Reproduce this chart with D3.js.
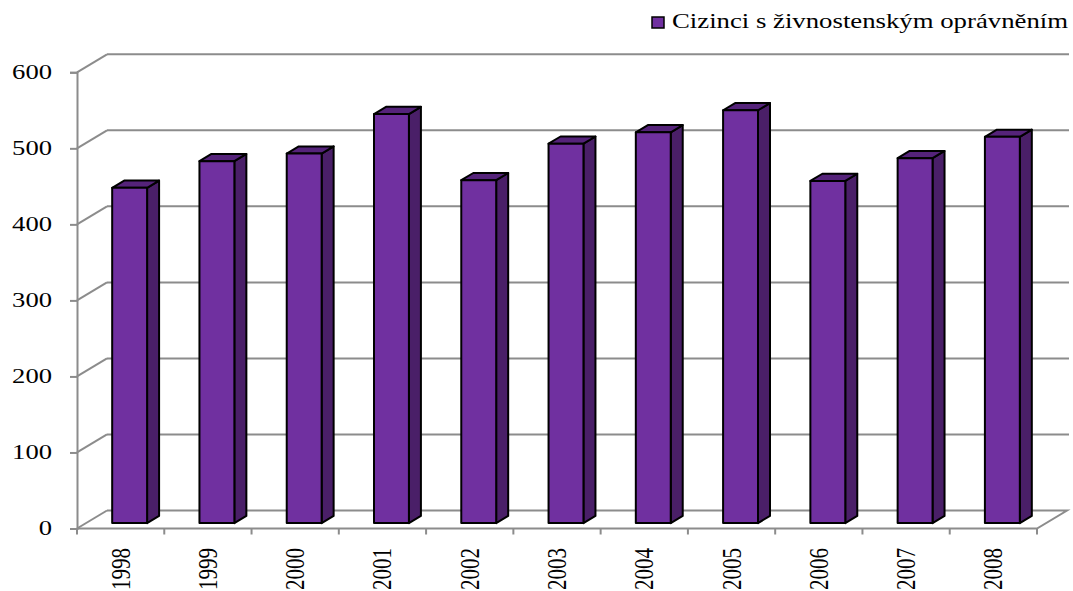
<!DOCTYPE html>
<html>
<head>
<meta charset="utf-8">
<script src="https://cdn.jsdelivr.net/npm/d3@7"></script>
<style>
  body { margin: 0; background: #fff; }
  text { font-family: "Liberation Serif", "Times New Roman", serif; fill: #000; }
</style>
</head>
<body>
<svg id="chart" width="1073" height="591"></svg>
<script>
const years = ["1998", "1999", "2000", "2001", "2002", "2003", "2004", "2005", "2006", "2007", "2008"];
const values = [441, 476, 486, 538, 451, 499, 514, 543, 450, 480, 508];
const yTicks = [0, 100, 200, 300, 400, 500, 600];
const seriesName = "Cizinci s živnostenským oprávněním";

const svg = d3.select("#chart");

// front plane of the plot and the depth of the 3d box
const depthX = 30, depthY = -18;
const x = d3.scaleBand().domain(years).range([77, 1037]).paddingInner(0.6).paddingOuter(0.3);
const y = d3.scaleLinear().domain([0, 600]).range([528.5, 72.3]);

const grid = svg.append("g").attr("stroke", "#8c8c8c").attr("stroke-width", 2).attr("fill", "none");

// back wall gridlines + left wall slants
yTicks.forEach(t => {
    if (t > 0) {
        grid.append("line")
            .attr("x1", 77 + depthX).attr("y1", y(t) + depthY)
            .attr("x2", 1069).attr("y2", y(t) + depthY);
    }
    grid.append("line")
        .attr("x1", 77).attr("y1", y(t))
        .attr("x2", 77 + depthX).attr("y2", y(t) + depthY);
});

// floor
grid.append("path")
    .attr("d", `M77,${y(0)}L1037,${y(0)}L${1037 + depthX},${y(0) + depthY}L${77 + depthX},${y(0) + depthY}`);

// y axis
const yAxis = svg.append("g")
    .attr("transform", "translate(77,0)")
    .call(d3.axisLeft(y).tickValues(yTicks).tickSize(7).tickPadding(18));
yAxis.select(".domain").attr("stroke", "#8c8c8c").attr("stroke-width", 2);
yAxis.selectAll(".tick line").attr("stroke", "#8c8c8c").attr("stroke-width", 2);
yAxis.selectAll(".tick text")
    .attr("font-size", 20)
    .attr("font-family", "Liberation Serif")
    .attr("textLength", d => String(d).length * 13.3)
    .attr("lengthAdjust", "spacingAndGlyphs");

// x axis ticks at category boundaries
const step = x.step();
const ticksX = d3.range(years.length + 1).map(i => 77 + i * step);
svg.append("g").selectAll("line").data(ticksX).join("line")
    .attr("x1", d => d).attr("x2", d => d)
    .attr("y1", y(0)).attr("y2", y(0) + 6)
    .attr("stroke", "#8c8c8c").attr("stroke-width", 2);

// labels are a bit stretched sideways in the original
svg.append("g").selectAll("text").data(years).join("text")
    .attr("transform", (d, i) => `translate(${77 + (i + 0.5) * step + 9},548) scale(1.3,1) rotate(-90)`)
    .attr("text-anchor", "end")
    .attr("font-size", 21)
    .text(d => d);

// bars: front face at 30% depth, back face at 70%
const f0 = 0.3, f1 = 0.7;
const bars = svg.append("g").attr("stroke", "#000").attr("stroke-width", 2).attr("stroke-linejoin", "round");
years.forEach((yr, i) => {
    const x0 = x(yr) + depthX * f0, x1 = x0 + x.bandwidth();
    const yb = y(0) + depthY * f0, yt = y(values[i]) + depthY * f0;
    const dx = depthX * (f1 - f0), dy = depthY * (f1 - f0);
    const g = bars.append("g");
    g.append("path").attr("fill", "#4a1f68")
        .attr("d", `M${x1},${yt}L${x1 + dx},${yt + dy}L${x1 + dx},${yb + dy}L${x1},${yb}Z`);
    g.append("path").attr("fill", "#55237a")
        .attr("d", `M${x0},${yt}L${x0 + dx},${yt + dy}L${x1 + dx},${yt + dy}L${x1},${yt}Z`);
    g.append("rect").attr("fill", "#7030a0")
        .attr("x", x0).attr("y", yt).attr("width", x.bandwidth()).attr("height", yb - yt);
});

// legend
const legend = svg.append("g");
legend.append("rect").attr("x", 652).attr("y", 17).attr("width", 12).attr("height", 11)
    .attr("fill", "#7030a0").attr("stroke", "#000").attr("stroke-width", 1.5);
legend.append("text").attr("x", 672).attr("y", 28)
    .attr("font-size", 21)
    .attr("textLength", 396).attr("lengthAdjust", "spacingAndGlyphs")
    .text(seriesName);
</script>
</body>
</html>
